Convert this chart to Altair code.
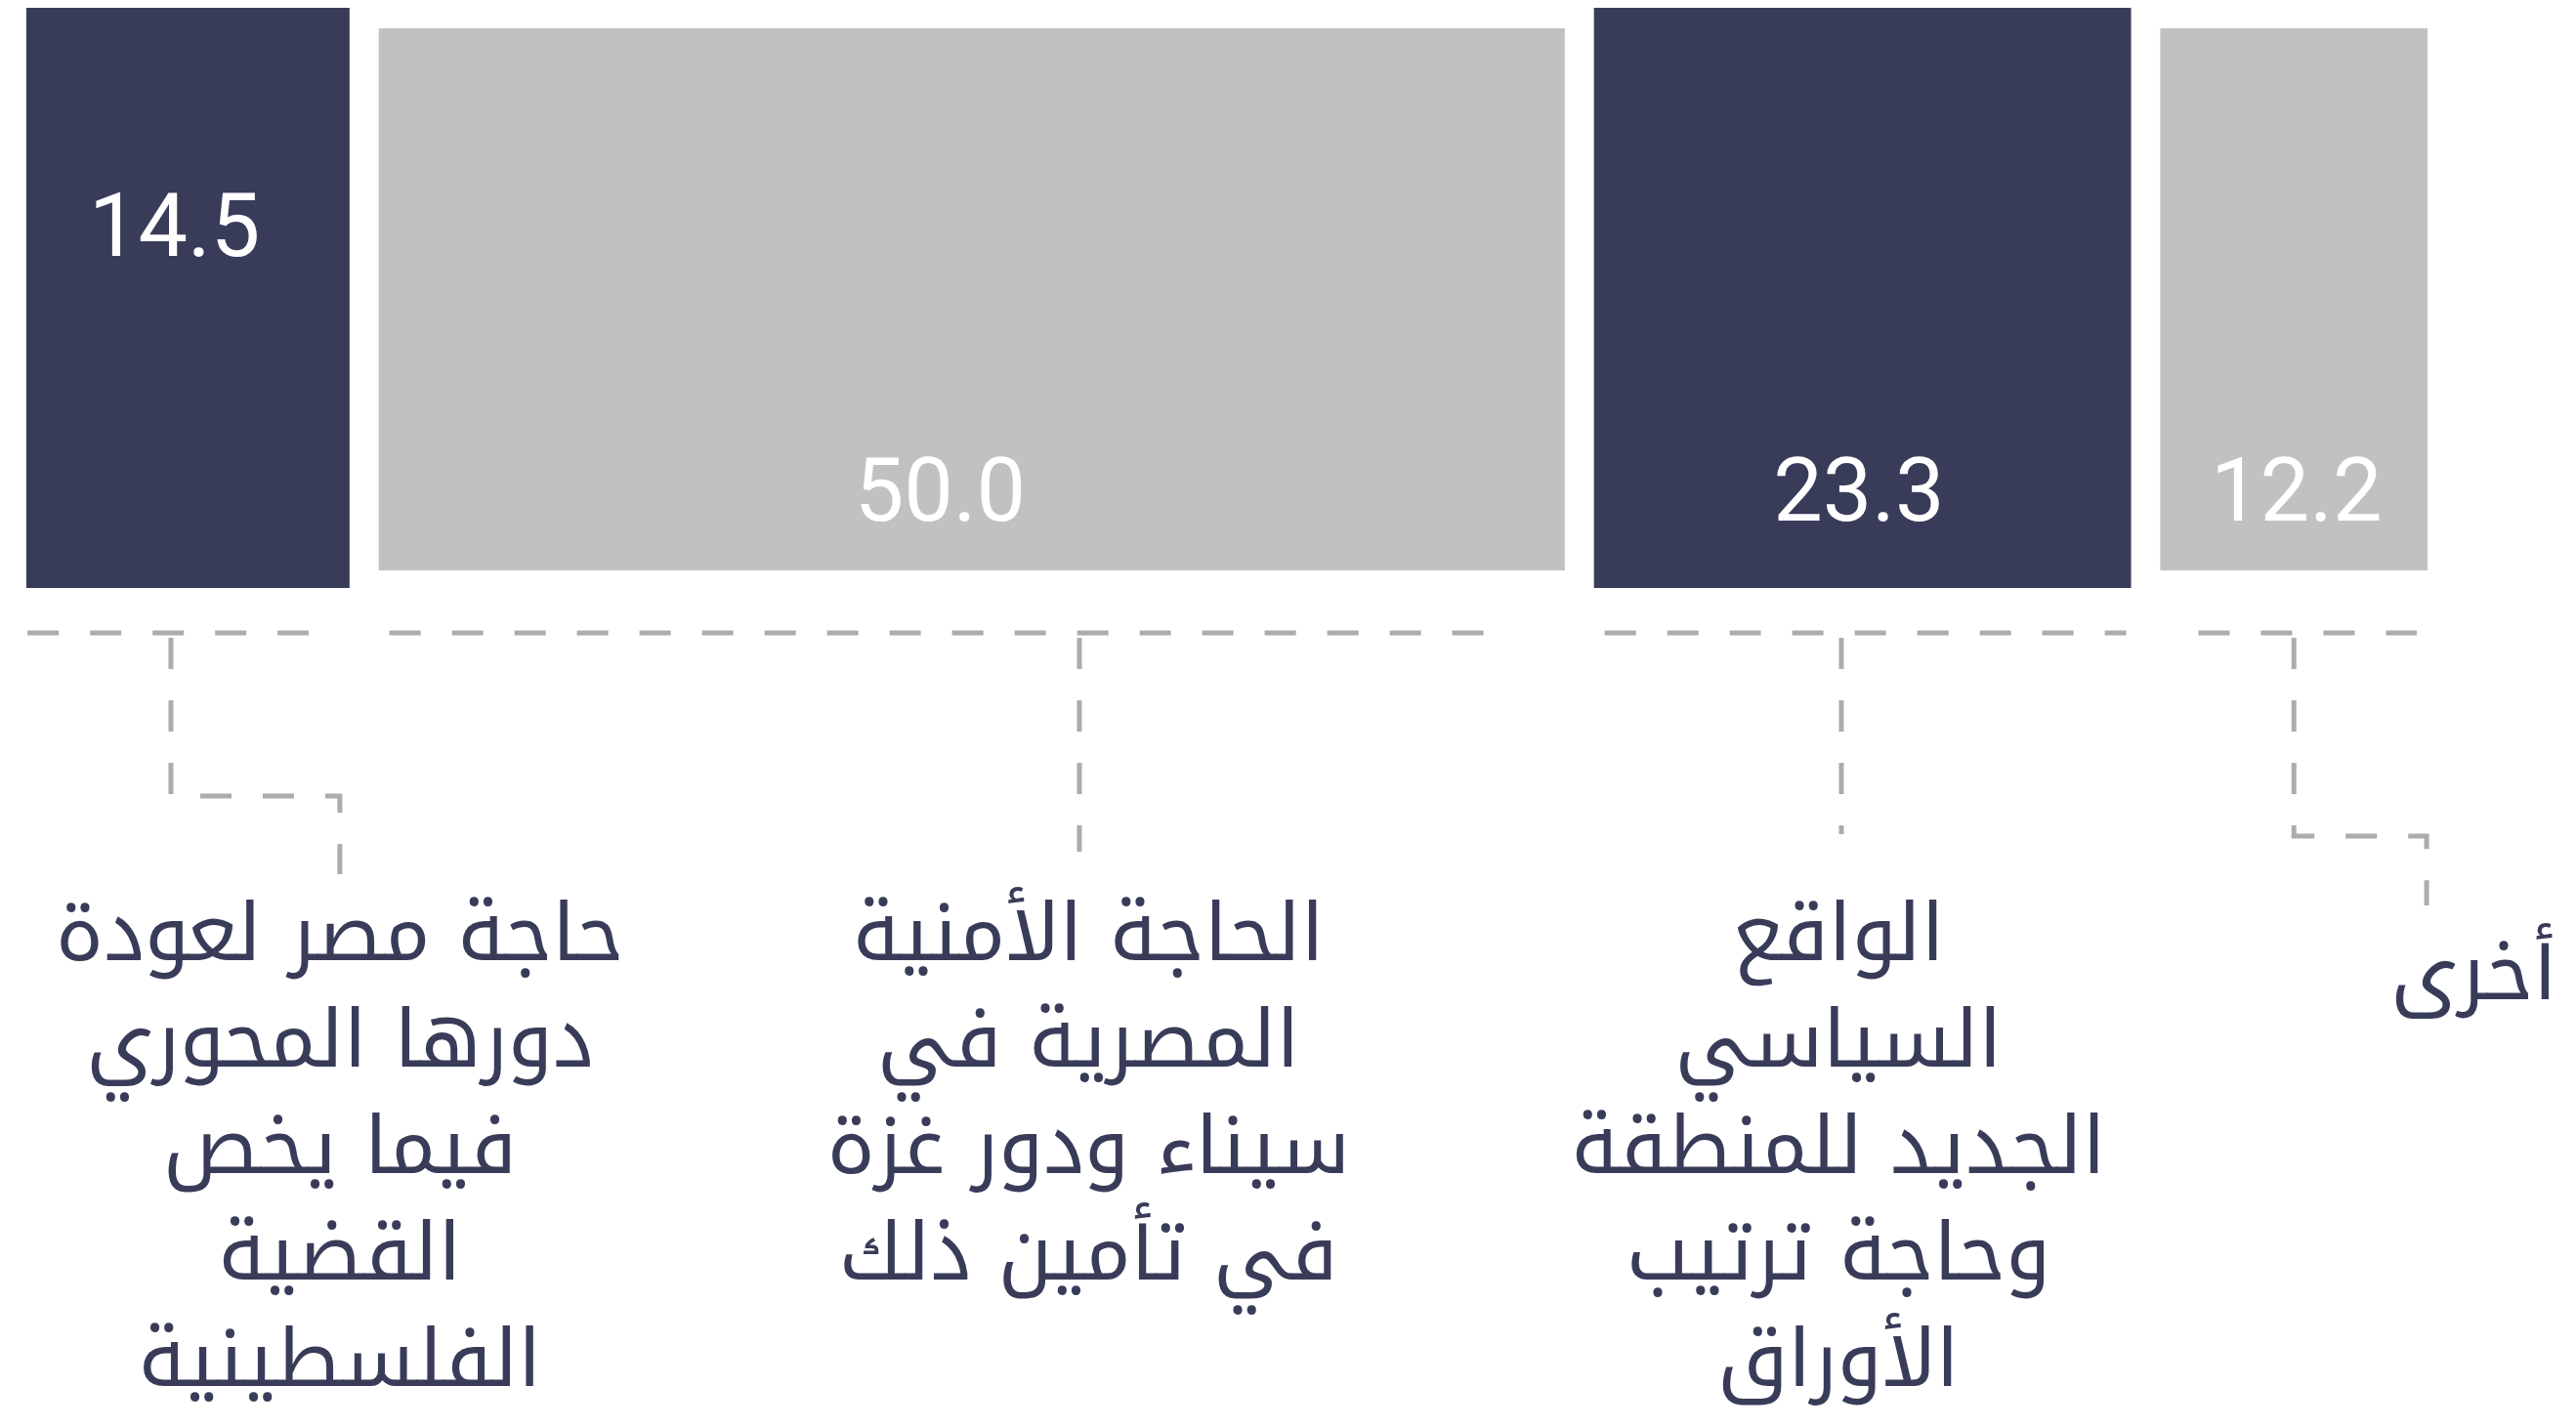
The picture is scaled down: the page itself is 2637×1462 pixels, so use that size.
import altair as alt
import pandas as pd

# ---------------- data ----------------
categories = [
    "حاجة مصر لعودة\nدورها المحوري\nفيما يخص\nالقضية\nالفلسطينية",
    "الحاجة الأمنية\nالمصرية في\nسيناء ودور غزة\nفي تأمين ذلك",
    "الواقع\nالسياسي\nالجديد للمنطقة\nوحاجة ترتيب\nالأوراق",
    "أخرى",
]
values = [14.5, 50.0, 23.3, 12.2]

# ---------------- layout (style, not data) ----------------
DARK = "#393c59"
LIGHT = "#c1c1c1"
DASH = "#acacaf"
TEXT = "#393c59"
GAP = 0.6                      # half gap between bars, in value units
DARK_Y = (0, 594)              # vertical extent of dark bars (layout units, top-down)
LIGHT_Y = (21, 576)            # vertical extent of light bars
RULE_Y = 640                   # horizontal dashed rule
RULE_TRIM = [(0.05, -1.5), (0.44, -3.2), (0.44, -0.2), (1.57, -0.44)]
LEAD_Y0 = 645                  # leader start
VALUE_Y = [254, 525, 525, 525]          # baseline of the value labels
VALUE_DX = [-0.55, -1.3, -0.15, 0.1]    # value label shift from bar centre
# leader polylines: (dx from bar centre, y) after the start point
LEADERS = [
    [(-0.7, None), (-0.7, 807), (6.25, 807), (6.25, 887)],
    [(4.43, None), (4.43, 864)],
    [(-0.87, None), (-0.87, 846)],
    [(0.0, None), (0.0, 848), (5.46, 848), (5.46, 919)],
]
LABEL_DX = [6.25, 4.8, -0.99, 7.4]
LABEL_Y = [975, 975, 975, 1015]
H = 1452

# ---------------- tables ----------------
starts, ends = [], []
acc = 0.0
for v in values:
    starts.append(acc)
    acc += v
    ends.append(acc)

bars = pd.DataFrame({
    "cat": categories,
    "value": values,
    "x": [s + GAP for s in starts],
    "x2": [e - GAP for e in ends],
    "tone": ["dark" if i % 2 == 0 else "light" for i in range(len(values))],
})
bars["y"] = [DARK_Y[0] if t == "dark" else LIGHT_Y[0] for t in bars["tone"]]
bars["y2"] = [DARK_Y[1] if t == "dark" else LIGHT_Y[1] for t in bars["tone"]]
bars["cx"] = (bars["x"] + bars["x2"]) / 2
bars["label"] = [f"{v:.1f}" for v in values]
bars["vx"] = bars["cx"] + pd.Series(VALUE_DX)
bars["vy"] = VALUE_Y
bars["lx"] = bars["cx"] + pd.Series(LABEL_DX)
bars["ly"] = LABEL_Y

rule_rows = []
for i, r in bars.iterrows():
    tl, tr = RULE_TRIM[i]
    rule_rows.append({"bar": i, "seq": 0, "x": r["x"] + tl, "y": RULE_Y})
    rule_rows.append({"bar": i, "seq": 1, "x": r["x2"] + tr, "y": RULE_Y})
rules = pd.DataFrame(rule_rows)

lead_rows = []
for i, pts in enumerate(LEADERS):
    c = bars.loc[i, "cx"]
    for k, (dx, y) in enumerate(pts):
        lead_rows.append({"bar": i, "seq": k, "x": c + dx, "y": LEAD_Y0 if y is None else y})
leads = pd.DataFrame(lead_rows)

xs = alt.Scale(domain=[0, 100], nice=False, zero=False)
ys = alt.Scale(domain=[0, H], nice=False, zero=False, reverse=True)

rects = alt.Chart(bars).mark_rect().encode(
    x=alt.X("x:Q", scale=xs, axis=None),
    x2="x2:Q",
    y=alt.Y("y:Q", scale=ys, axis=None),
    y2="y2:Q",
    color=alt.Color("tone:N", scale=alt.Scale(domain=["dark", "light"], range=[DARK, LIGHT]), legend=None),
)

vals = alt.Chart(bars).mark_text(
    font="Roboto", fontSize=90, color="white", align="center", baseline="alphabetic"
).encode(
    x=alt.X("vx:Q", scale=xs, axis=None),
    y=alt.Y("vy:Q", scale=ys, axis=None),
    text="label:N",
)

rule_lines = alt.Chart(rules).mark_line(
    color=DASH, strokeWidth=5, strokeDash=[32, 32], strokeCap="butt"
).encode(
    x=alt.X("x:Q", scale=xs, axis=None),
    y=alt.Y("y:Q", scale=ys, axis=None),
    detail="bar:N",
    order="seq:Q",
)

lead_lines = alt.Chart(leads).mark_line(
    color=DASH, strokeWidth=5, strokeDash=[32, 32], strokeCap="butt", strokeJoin="miter"
).encode(
    x=alt.X("x:Q", scale=xs, axis=None),
    y=alt.Y("y:Q", scale=ys, axis=None),
    detail="bar:N",
    order="seq:Q",
)

labels = alt.Chart(bars).mark_text(
    font="Noto Kufi Arabic, Noto Sans Arabic, DejaVu Sans, sans-serif", fontSize=82, color=TEXT,
    align="center", baseline="alphabetic", lineBreak="\n", lineHeight=109,
).encode(
    x=alt.X("lx:Q", scale=xs, axis=None),
    y=alt.Y("ly:Q", scale=ys, axis=None),
    text="cat:N",
)

chart = alt.layer(rects, vals, rule_lines, lead_lines, labels).properties(
    width=2488, height=H, padding={"left": 4, "top": 0, "right": 0, "bottom": 0}
).configure_view(stroke=None)

chart.save("out.html", embed_options={"renderer": "svg", "actions": False})
